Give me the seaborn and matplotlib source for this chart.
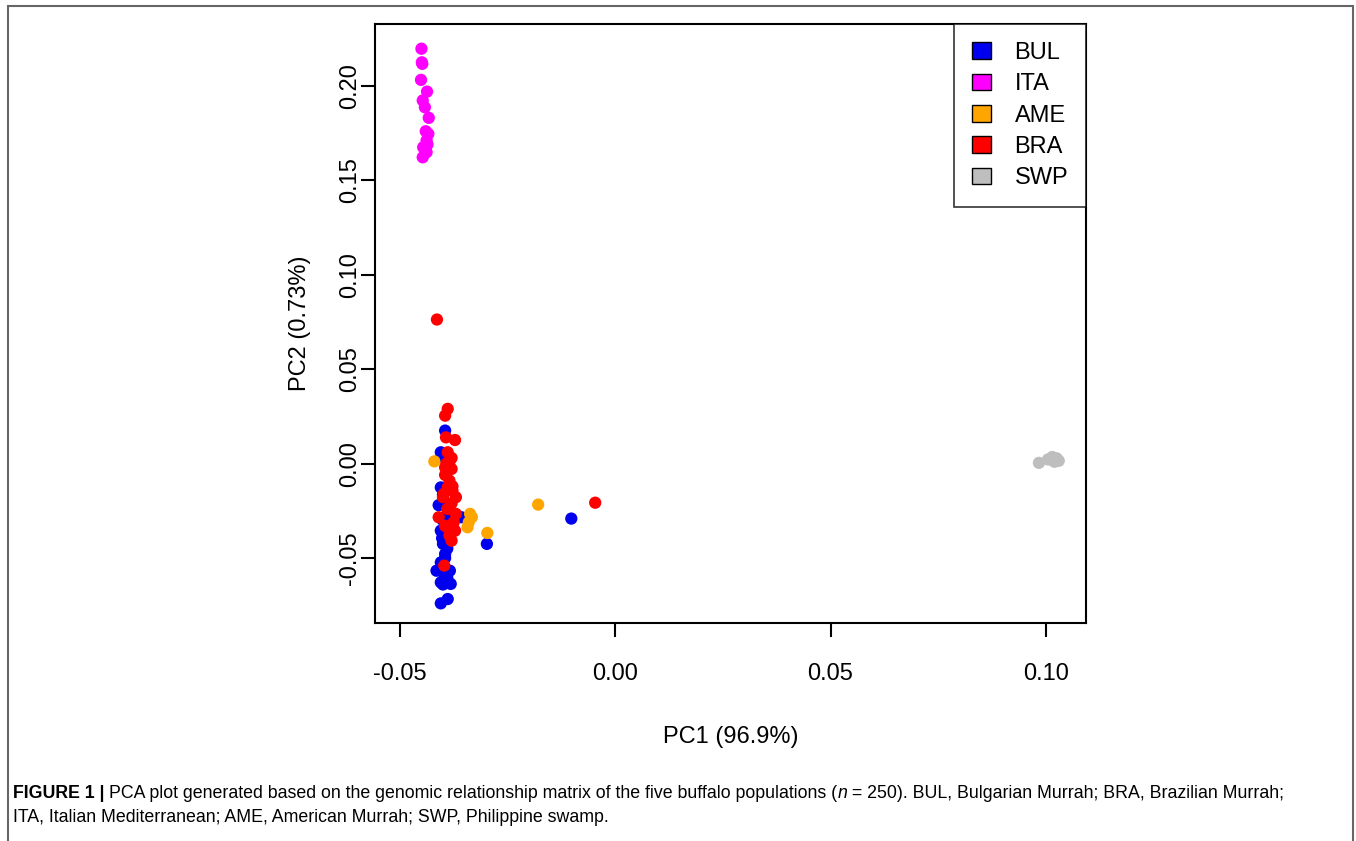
import pandas as pd
import matplotlib
matplotlib.use("Agg")
import matplotlib.pyplot as plt
import seaborn as sns
from matplotlib.patches import Patch, Rectangle

# PC scores, per population
bul_pc1 = [-0.0395, -0.0405, -0.0403, -0.0405, -0.0400, -0.0395, -0.0392, -0.0357,
           -0.0405, -0.0385, -0.0402, -0.0400, -0.0395, -0.0405, -0.0415, -0.0384,
           -0.0405, -0.0382, -0.0389, -0.0405, -0.0102, -0.0298, -0.0400, -0.0390,
           -0.0398, -0.0395, -0.0410, -0.0395, -0.0400, -0.0390]
bul_pc2 = [0.0175, 0.0060, 0.0040, -0.0126, -0.0165, -0.0222, -0.0275, -0.0284,
           -0.0355, -0.0364, -0.0395, -0.0425, -0.0478, -0.0523, -0.0567, -0.0567,
           -0.0629, -0.0637, -0.0717, -0.0740, -0.0291, -0.0425, -0.0300, -0.0450,
           -0.0580, -0.0340, -0.0220, -0.0500, -0.0640, -0.0605]

ita_pc1 = [-0.0450, -0.0448, -0.0451, -0.0437, -0.0447, -0.0442, -0.0433, -0.0434,
           -0.0438, -0.0446, -0.0438, -0.0447, -0.0449, -0.0440, -0.0436]
ita_pc2 = [0.2197, 0.2117, 0.2032, 0.1970, 0.1923, 0.1887, 0.1831, 0.1746,
           0.1711, 0.1675, 0.1649, 0.1622, 0.2125, 0.1760, 0.1690]

ame_pc1 = [-0.0420, -0.0337, -0.0343, -0.0333, -0.0297, -0.0179, -0.0340]
ame_pc2 = [0.0012, -0.0266, -0.0337, -0.0284, -0.0367, -0.0217, -0.0310]

bra_pc1 = [-0.0389, -0.0395, -0.0372, -0.0393, -0.0389, -0.0384, -0.0380, -0.0395,
           -0.0378, -0.0389, -0.0370, -0.0400, -0.0370, -0.0410, -0.0372, -0.0380,
           -0.0397, -0.0414, -0.00465, -0.0395, -0.0385, -0.0392, -0.0380, -0.0390,
           -0.0375, -0.0395, -0.0385, -0.0380, -0.0398, -0.0378]
bra_pc2 = [0.0290, 0.0254, 0.0125, 0.0139, 0.0060, 0.0016, -0.0028, -0.0020,
           -0.0143, -0.0126, -0.0178, -0.0178, -0.0266, -0.0284, -0.0355, -0.0408,
           -0.0540, 0.0763, -0.0207, -0.0060, -0.0090, 0.0000, -0.0210, -0.0240,
           -0.0310, -0.0330, -0.0380, 0.0030, -0.0160, -0.0120]

swp_pc1 = [0.0984, 0.1005, 0.1015, 0.1025, 0.1030, 0.1020]
swp_pc2 = [0.0004, 0.0022, 0.0035, 0.0028, 0.0015, 0.0010]

groups = ["BUL", "ITA", "AME", "BRA", "SWP"]
colors = {"BUL": "#0000EE", "ITA": "#FF00FF", "AME": "#FFA500",
          "BRA": "#FF0000", "SWP": "#BEBEBE"}

frames = []
for g, xs, ys in zip(groups,
                     [bul_pc1, ita_pc1, ame_pc1, bra_pc1, swp_pc1],
                     [bul_pc2, ita_pc2, ame_pc2, bra_pc2, swp_pc2]):
    frames.append(pd.DataFrame({"PC1": xs, "PC2": ys, "pop": g}))
pca = pd.concat(frames, ignore_index=True)

sns.set_style("white")
plt.rcParams["font.family"] = ["Liberation Sans", "DejaVu Sans"]
plt.rcParams["text.color"] = "black"
plt.rcParams["axes.labelcolor"] = "black"
plt.rcParams["xtick.color"] = "black"
plt.rcParams["ytick.color"] = "black"

fig = plt.figure(figsize=(13.56, 8.41), dpi=100)
ax = fig.add_axes([0.2765, 0.2592, 0.5243, 0.7123])

sns.scatterplot(data=pca, x="PC1", y="PC2", hue="pop", hue_order=groups,
                palette=colors, s=78, linewidth=0, legend=False, ax=ax)

ax.set_xlim(-0.0558, 0.1093)
ax.set_ylim(-0.0844, 0.2328)
ax.set_xticks([-0.05, 0.00, 0.05, 0.10])
ax.set_xticklabels(["-0.05", "0.00", "0.05", "0.10"])
ax.set_yticks([-0.05, 0.00, 0.05, 0.10, 0.15, 0.20])
ax.set_yticklabels(["-0.05", "0.00", "0.05", "0.10", "0.15", "0.20"],
                   rotation=90, va="center")
ax.tick_params(axis="both", labelsize=17, length=10, width=1.5,
               direction="out", color="black", bottom=True, left=True)
ax.tick_params(axis="x", pad=19)
ax.tick_params(axis="y", pad=0)
for sp in ax.spines.values():
    sp.set_color("black")
    sp.set_linewidth(1.5)

ax.set_xlabel("PC1 (96.9%)", fontsize=17, labelpad=29)
ax.set_ylabel("PC2 (0.73%)", fontsize=17, labelpad=20)

handles = [Patch(facecolor=colors[g], edgecolor="black", linewidth=1, label=g)
           for g in groups]
leg = ax.legend(handles=handles, loc="upper right", fontsize=17,
                frameon=True, fancybox=False, borderaxespad=0,
                handlelength=0.8, handleheight=0.7, handletextpad=1.0,
                labelspacing=0.4, borderpad=0.75)
leg.get_frame().set_edgecolor("black")
leg.get_frame().set_linewidth(1.2)

# outer figure frame
fig.patches.append(Rectangle((8 / 1356, -0.1), 1345 / 1356, 1.1 - 6 / 841,
                             transform=fig.transFigure, fill=False,
                             edgecolor="#666666", linewidth=1.5))

# caption
cap_y1 = 1 - 793 / 841
cap_y2 = 1 - 818 / 841
fs = 12.8
bold = fig.text(13 / 1356, cap_y1, "FIGURE 1 | ", fontsize=fs,
                fontweight="bold", va="center")
fig.canvas.draw()
bb = bold.get_window_extent(fig.canvas.get_renderer())
t1 = fig.text(bb.x1 / 1356, cap_y1,
              "PCA plot generated based on the genomic relationship matrix of the five "
              "buffalo populations (", fontsize=fs, va="center")
fig.canvas.draw()
b1 = t1.get_window_extent(fig.canvas.get_renderer())
t2 = fig.text(b1.x1 / 1356, cap_y1, "n", fontsize=fs, style="italic",
              va="center")
fig.canvas.draw()
b2 = t2.get_window_extent(fig.canvas.get_renderer())
fig.text(b2.x1 / 1356, cap_y1,
         " = 250). BUL, Bulgarian Murrah; BRA, Brazilian Murrah;",
         fontsize=fs, va="center")
fig.text(13 / 1356, cap_y2,
         "ITA, Italian Mediterranean; AME, American Murrah; SWP, Philippine swamp.",
         fontsize=fs, va="center")

fig.savefig("out.png", dpi=100)
